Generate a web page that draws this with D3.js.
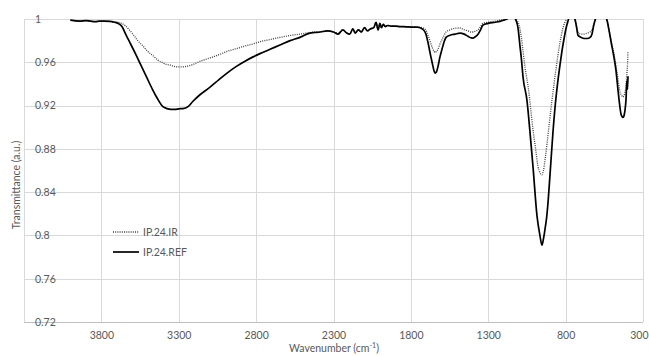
<!DOCTYPE html>
<html><head><meta charset="utf-8">
<script src="https://cdn.jsdelivr.net/npm/d3@7"></script>
<style>html,body{margin:0;padding:0;background:#fff;}svg{display:block;font-family:Lato,"Open Sans",sans-serif;}</style>
</head><body><svg id="c" width="649" height="356"></svg>
<script>
const xTicks = [3800, 3300, 2800, 2300, 1800, 1300, 800, 300];
const yTicks = [0.72, 0.76, 0.8, 0.84, 0.88, 0.92, 0.96, 1];
const seriesNames = ["IP.24.IR", "IP.24.REF"];

const waveREF = [4000,3940,3900,3870,3840,3810,3780,3745,3715,3693,3667,3640,3615,3580,3550,3510,3470,3440,3402,3376,3350,3324,3300,3273,3240,3208,3163,3098,3040,2988,2930,2872,2820,2775,2710,2646,2580,2517,2452,2420,2387,2340,2300,2270,2240,2215,2195,2175,2160,2140,2120,2100,2080,2060,2040,2025,2012,2000,1990,1978,1965,1950,1930,1900,1870,1830,1790,1760,1728,1705,1689,1675,1663,1650,1644,1635,1625,1612,1599,1585,1573,1547,1515,1483,1455,1431,1410,1398,1380,1366,1350,1334,1300,1256,1220,1179,1147,1121,1108,1095,1085,1075,1050,1030,1010,985,966,953,943,933,924,914,900,882,866,849,836,824,810,798,785,772,755,740,730,720,700,681,660,642,630,617,604,591,570,546,533,520,504,488,475,462,452,442,436,430,424,417,410,404,400,397];
const tREF = [0.999,0.998,0.9985,0.998,0.9975,0.998,0.998,0.9978,0.997,0.996,0.993,0.985,0.978,0.968,0.959,0.947,0.935,0.927,0.919,0.9172,0.9165,0.9165,0.917,0.9172,0.919,0.924,0.930,0.937,0.944,0.950,0.956,0.961,0.965,0.968,0.972,0.976,0.980,0.983,0.987,0.9875,0.988,0.989,0.988,0.986,0.990,0.987,0.986,0.991,0.987,0.990,0.988,0.992,0.989,0.991,0.992,0.997,0.990,0.996,0.992,0.995,0.993,0.994,0.9935,0.9935,0.993,0.9928,0.9925,0.9925,0.991,0.987,0.978,0.968,0.960,0.952,0.950,0.951,0.956,0.965,0.972,0.979,0.983,0.985,0.986,0.987,0.986,0.984,0.9825,0.9824,0.984,0.986,0.990,0.9945,0.996,0.997,0.998,1.0,1.003,0.999,0.992,0.975,0.962,0.946,0.925,0.895,0.862,0.818,0.800,0.791,0.797,0.806,0.815,0.830,0.858,0.895,0.922,0.944,0.958,0.970,0.982,0.991,0.998,1.003,1.004,1.0,0.993,0.985,0.983,0.982,0.982,0.983,0.986,0.995,1.001,1.003,1.004,1.003,0.999,0.990,0.977,0.965,0.953,0.935,0.922,0.912,0.910,0.909,0.910,0.915,0.925,0.943,0.935,0.947];

const waveIR = [4000,3940,3900,3870,3840,3810,3780,3745,3715,3693,3670,3647,3620,3596,3565,3531,3500,3466,3435,3402,3380,3357,3325,3292,3260,3240,3208,3160,3098,3040,2988,2930,2872,2820,2775,2710,2646,2580,2517,2452,2420,2387,2340,2300,2270,2240,2215,2195,2175,2160,2140,2120,2100,2080,2060,2040,2025,2012,2000,1990,1978,1965,1950,1930,1900,1870,1830,1790,1760,1728,1705,1689,1675,1663,1650,1644,1635,1625,1612,1599,1585,1573,1547,1515,1483,1455,1431,1410,1398,1380,1366,1350,1334,1300,1256,1220,1179,1147,1121,1100,1088,1075,1062,1040,1011,992,979,966,953,943,933,920,906,888,875,862,850,837,820,805,790,772,755,740,730,720,700,681,660,642,630,617,604,591,570,546,533,520,504,488,475,462,452,442,436,430,424,417,410,404,400,397];
const tIR = [0.999,0.998,0.9985,0.998,0.9975,0.998,0.998,0.9978,0.997,0.997,0.996,0.994,0.990,0.986,0.980,0.975,0.970,0.966,0.962,0.9595,0.958,0.9575,0.956,0.9557,0.956,0.9565,0.958,0.961,0.964,0.967,0.970,0.9725,0.975,0.977,0.979,0.981,0.983,0.9848,0.986,0.9875,0.988,0.988,0.989,0.988,0.987,0.990,0.987,0.986,0.991,0.987,0.990,0.988,0.992,0.989,0.991,0.992,0.997,0.990,0.996,0.992,0.995,0.993,0.994,0.9935,0.9935,0.993,0.9928,0.9925,0.9925,0.992,0.990,0.985,0.979,0.974,0.970,0.969,0.970,0.972,0.977,0.981,0.985,0.988,0.990,0.9915,0.9917,0.990,0.989,0.988,0.988,0.989,0.990,0.993,0.996,0.997,0.998,0.999,1.0,1.003,1.0,0.994,0.985,0.970,0.955,0.935,0.898,0.878,0.864,0.858,0.856,0.860,0.870,0.885,0.903,0.925,0.940,0.954,0.966,0.978,0.990,0.997,1.001,1.004,1.004,1.0,0.994,0.988,0.986,0.986,0.987,0.988,0.990,0.996,1.001,1.003,1.004,1.003,0.999,0.990,0.979,0.968,0.957,0.945,0.935,0.930,0.929,0.928,0.929,0.932,0.938,0.950,0.958,0.970];

const svg = d3.select("#c");
const pLeft = 24, pRight = 643, pTop = 19, pBottom = 322;
const x = d3.scaleLinear().domain([4300, 300]).range([pLeft, pRight]);
const y = d3.scaleLinear().domain([0.72, 1]).range([pBottom, pTop]);
const gridColor = "#d9d9d9", textColor = "#595959";
const fs = 10.5;

// gridlines
svg.append("g").selectAll("line").data(yTicks).join("line")
  .attr("x1", pLeft).attr("x2", pRight).attr("y1", d => Math.round(y(d)) + 0.5).attr("y2", d => Math.round(y(d)) + 0.5)
  .attr("stroke", gridColor).attr("stroke-width", 1);
svg.append("g").selectAll("line").data([4300].concat(xTicks)).join("line")
  .attr("x1", d => Math.round(x(d)) + 0.5).attr("x2", d => Math.round(x(d)) + 0.5).attr("y1", pTop).attr("y2", pBottom)
  .attr("stroke", gridColor).attr("stroke-width", 1);
svg.append("line").attr("x1", pLeft).attr("x2", pRight).attr("y1", pBottom + 0.5).attr("y2", pBottom + 0.5)
  .attr("stroke", "#bfbfbf").attr("stroke-width", 1);

// axes labels via d3 axes
const xAxis = d3.axisBottom(x).tickValues(xTicks).tickSize(0).tickPadding(10).tickFormat(d3.format("d"));
const gx = svg.append("g").attr("transform", `translate(0,${pBottom})`).call(xAxis);
gx.select(".domain").remove();
gx.selectAll("text").attr("font-size", fs).attr("fill", textColor).attr("font-family","Lato,sans-serif");
// keep the last label inside the window edge
gx.selectAll(".tick").filter(d => d === 300).select("text").attr("text-anchor", "end").attr("dx", 5);

const yAxis = d3.axisRight(y).tickValues(yTicks).tickSize(0).tickPadding(0).tickFormat(d => String(+d.toFixed(2)));
const gy = svg.append("g").attr("transform", `translate(35,0)`).call(yAxis);
gy.select(".domain").remove();
gy.selectAll("text").attr("font-size", fs).attr("fill", textColor).attr("font-family","Lato,sans-serif");

// titles
const xt = svg.append("text").attr("x", 334).attr("y", 352).attr("text-anchor", "middle")
  .attr("font-size", fs).attr("fill", textColor);
xt.append("tspan").text("Wavenumber (cm");
xt.append("tspan").attr("font-size", 7).attr("dy", -4).text("-1");
xt.append("tspan").attr("dy", 4).text(")");
svg.append("text").attr("transform", "translate(20,185) rotate(-90)").attr("text-anchor", "middle")
  .attr("font-size", fs).attr("fill", textColor).text("Transmittance (a.u.)");

// clip
svg.append("clipPath").attr("id", "pc").append("rect")
  .attr("x", pLeft).attr("y", pTop).attr("width", pRight - pLeft).attr("height", pBottom - pTop);

const line = d3.line().x(d => x(d[0])).y(d => y(d[1])).curve(d3.curveMonotoneX);
const irData = d3.zip(waveIR, tIR), refData = d3.zip(waveREF, tREF);

svg.append("path").datum(irData).attr("clip-path", "url(#pc)").attr("d", line)
  .attr("fill", "none").attr("stroke", "#404040").attr("stroke-width", 1.3).attr("stroke-dasharray", "1,1.2");
svg.append("path").datum(refData).attr("clip-path", "url(#pc)").attr("d", line)
  .attr("fill", "none").attr("stroke", "#000").attr("stroke-width", 1.7).attr("stroke-linejoin","round");

// legend
const leg = svg.append("g");
const legItems = [{name: seriesNames[0], dash: "1,1.2", w: 1.3, c: "#404040", yy: 232},
                  {name: seriesNames[1], dash: null, w: 1.7, c: "#000", yy: 252}];
legItems.forEach(it => {
  leg.append("line").attr("x1", 113).attr("x2", 139).attr("y1", it.yy).attr("y2", it.yy)
    .attr("stroke", it.c).attr("stroke-width", it.w).attr("stroke-dasharray", it.dash);
  leg.append("text").attr("x", 143).attr("y", it.yy).attr("dy", "0.35em")
    .attr("font-size", fs).attr("fill", textColor).text(it.name);
});
</script></body></html>
